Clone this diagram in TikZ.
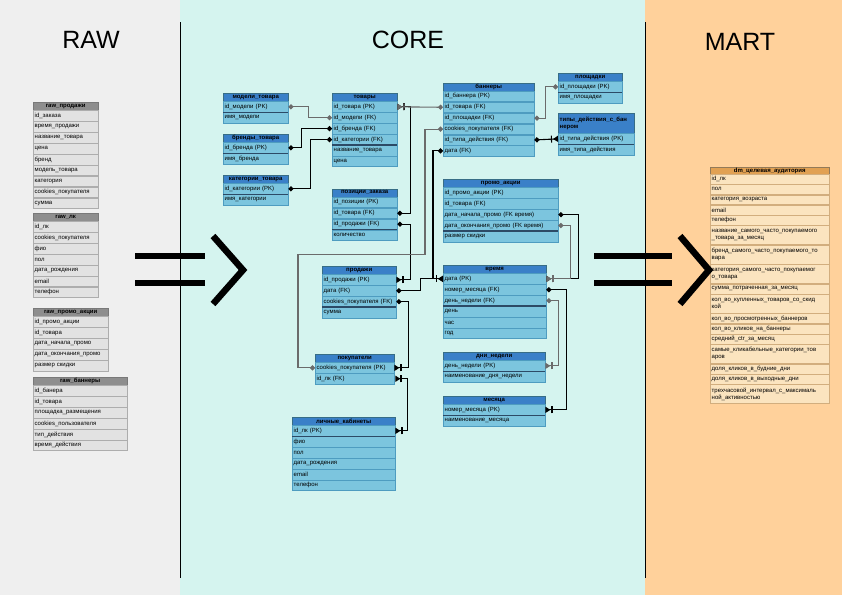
\documentclass[tikz,border=0pt]{standalone}
\usepackage{fontspec}
\setmainfont{Liberation Sans}
\usepackage{xcolor}
\usetikzlibrary{arrows.meta,positioning}
\definecolor{rawbg}{HTML}{EFEFEF}
\definecolor{corebg}{HTML}{D5F4EF}
\definecolor{martbg}{HTML}{FFD19B}
\definecolor{rawhead}{HTML}{8E8E8E}
\definecolor{rawcell}{HTML}{E2E2E2}
\definecolor{rawline}{HTML}{ADADAD}
\definecolor{corehead}{HTML}{3A80C8}
\definecolor{corecell}{HTML}{7CC5DE}
\definecolor{coreline}{HTML}{4E9CC0}
\definecolor{keyline}{HTML}{2C4A66}
\definecolor{marthead}{HTML}{E1A153}
\definecolor{martcell}{HTML}{FBE4BF}
\definecolor{martline}{HTML}{D2AE7E}
\definecolor{linkgray}{HTML}{6B6B6B}

\begin{document}
\catcode`\_=12
\begin{tikzpicture}[x=1pt,y=-1pt,
  title/.style={font=\fontsize{25}{30}\selectfont},
  rhead/.style={anchor=north west,draw=rawline!70!black,fill=rawhead,text width=#1,align=center,minimum height=8pt,inner xsep=1.5pt,inner ysep=0pt,font=\fontsize{6}{7}\selectfont\bfseries},
  rrow/.style={draw=rawline,fill=rawcell,text width=#1,align=left,minimum height=10.5pt,inner xsep=1.5pt,inner ysep=0pt,font=\fontsize{6}{7}\selectfont},
  chead/.style={anchor=north west,draw=coreline!70!black,fill=corehead,text width=#1,align=center,minimum height=8pt,inner xsep=1.5pt,inner ysep=0pt,font=\fontsize{6}{7}\selectfont\bfseries},
  crow/.style={draw=coreline,fill=corecell,text width=#1,align=left,minimum height=10.5pt,inner xsep=1.5pt,inner ysep=0pt,font=\fontsize{6}{7}\selectfont},
  mhead/.style={anchor=north west,draw=martline!70!black,fill=marthead,text width=#1,align=center,minimum height=6.5pt,inner xsep=1.5pt,inner ysep=0pt,font=\fontsize{6}{7}\selectfont\bfseries},
  mrow/.style={draw=martline,fill=martcell,text width=#1,align=left,inner xsep=1.5pt,inner ysep=0pt,font=\fontsize{6}{7}\selectfont},
  keysep/.style={draw=keyline,line width=1.4pt},
  link/.style={draw=black,line width=1.1pt},
  glink/.style={draw=linkgray,line width=1.1pt},
  dd/.style={arrows={Circle[length=5pt]-Circle[length=5pt]}},
  dp/.style={arrows={Circle[length=5pt]-Bar[width=7pt,sep=1pt] Triangle[reversed,length=5pt,width=6pt]}},
  pp/.style={arrows={Triangle[reversed,length=5pt,width=6pt,sep=1pt] Bar[width=7pt]-Bar[width=7pt,sep=1pt] Triangle[reversed,length=5pt,width=6pt]}},
  bigbar/.style={line width=5.5pt},
  bigchev/.style={line width=6.5pt,miter limit=20}]
 \useasboundingbox (0,0) rectangle (842,595);
 \fill[rawbg] (0,0) rectangle (180,595);
 \fill[corebg] (180,0) rectangle (645,595);
 \fill[martbg] (645,0) rectangle (842,595);
 \draw[line width=0.8pt] (180,22) -- (180,578) (645,22) -- (645,578);
 \node[title] (raw) at (91,40) {RAW};
 \node[title] (core) at (408,40) {CORE};
 \node[title] (mart) at (740,42) {MART};

 \node[rhead=62pt] (rprod-0) at (33,102) {raw_продажи};
 \foreach \t [count=\i,remember=\i as \j (initially 0)] in {id_заказа,время_продажи,название_товара,цена,бренд,модель_товара,категория,cookies_покупателя,сумма}
  \node[rrow=62pt,below=0pt of rprod-\j] (rprod-\i) {\t};
 \node[rhead=62pt] (rlk-0) at (33,213) {raw_лк};
 \foreach \t [count=\i,remember=\i as \j (initially 0)] in {id_лк,cookies_покупателя,фио,пол,дата_рождения,email,телефон}
  \node[rrow=62pt,below=0pt of rlk-\j] (rlk-\i) {\t};
 \node[rhead=72pt] (rpromo-0) at (33,308) {raw_промо_акции};
 \foreach \t [count=\i,remember=\i as \j (initially 0)] in {id_промо_акции,id_товара,дата_начала_промо,дата_окончания_промо,размер скидки}
  \node[rrow=72pt,below=0pt of rpromo-\j] (rpromo-\i) {\t};
 \node[rhead=91pt] (rban-0) at (33,377) {raw_баннеры};
 \foreach \t [count=\i,remember=\i as \j (initially 0)] in {id_банера,id_товара,площадка_размещения,cookies_пользователя,тип_действия,время_действия}
  \node[rrow=91pt,below=0pt of rban-\j] (rban-\i) {\t};

 \node[chead=62pt] (mod-0) at (223,93) {модели_товара};
 \foreach \t [count=\i,remember=\i as \j (initially 0)] in {id_модели (PK),имя_модели}
  \node[crow=62pt,below=0pt of mod-\j] (mod-\i) {\t};
 \node[chead=62pt] (brand-0) at (223,134) {бренды_товара};
 \foreach \t [count=\i,remember=\i as \j (initially 0)] in {id_бренда (PK),имя_бренда}
  \node[crow=62pt,below=0pt of brand-\j] (brand-\i) {\t};
 \node[chead=62pt] (cat-0) at (223,175) {категории_товара};
 \foreach \t [count=\i,remember=\i as \j (initially 0)] in {id_категории (PK),имя_категории}
  \node[crow=62pt,below=0pt of cat-\j] (cat-\i) {\t};
 \node[chead=62pt] (tov-0) at (332,93) {товары};
 \foreach \t [count=\i,remember=\i as \j (initially 0)] in {id_товара (PK),id_модели (FK),id_бренда (FK),id_категории (FK),название_товара,цена}
  \node[crow=62pt,below=0pt of tov-\j] (tov-\i) {\t};
 \node[chead=62pt] (poz-0) at (332,188.5) {позиции_заказа};
 \foreach \t [count=\i,remember=\i as \j (initially 0)] in {id_позиции (PK),id_товара (FK),id_продажи (FK),количество}
  \node[crow=62pt,below=0pt of poz-\j] (poz-\i) {\t};
 \node[chead=71pt] (prod-0) at (322,266) {продажи};
 \foreach \t [count=\i,remember=\i as \j (initially 0)] in {id_продажи (PK),дата (FK),cookies_покупателя (FK),сумма}
  \node[crow=71pt,below=0pt of prod-\j] (prod-\i) {\t};
 \node[chead=76pt] (pok-0) at (315,354) {покупатели};
 \foreach \t [count=\i,remember=\i as \j (initially 0)] in {cookies_покупателя (PK),id_лк (FK)}
  \node[crow=76pt,below=0pt of pok-\j] (pok-\i) {\t};
 \node[chead=100pt] (lk-0) at (292,417) {личные_кабинеты};
 \foreach \t [count=\i,remember=\i as \j (initially 0)] in {id_лк (PK),фио,пол,дата_рождения,email,телефон}
  \node[crow=100pt,below=0pt of lk-\j] (lk-\i) {\t};
 \node[chead=88pt] (ban-0) at (443,82.5) {баннеры};
 \foreach \t [count=\i,remember=\i as \j (initially 0)] in {id_баннера (PK),id_товара (FK),id_площадки (FK),cookies_покупателя (FK),id_типа_действия (FK),дата (FK)}
  \node[crow=88pt,below=0pt of ban-\j] (ban-\i) {\t};
 \node[chead=61pt] (pl-0) at (558,73) {площадки};
 \foreach \t [count=\i,remember=\i as \j (initially 0)] in {id_площадки (PK),имя_площадки}
  \node[crow=61pt,below=0pt of pl-\j] (pl-\i) {\t};
 \node[chead=73pt,align=left,minimum height=20pt] (tip-0) at (558,113) {типы_действия_с_бан\\нером};
 \foreach \t [count=\i,remember=\i as \j (initially 0)] in {id_типа_действия (PK),имя_типа_действия}
  \node[crow=73pt,below=0pt of tip-\j] (tip-\i) {\t};
 \node[chead=112pt] (promo-0) at (443,179) {промо_акции};
 \foreach \t [count=\i,remember=\i as \j (initially 0)] in {id_промо_акции (PK),id_товара (FK),дата_начала_промо (FK время),дата_окончания_промо (FK время),размер скидки}
  \node[crow=112pt,below=0pt of promo-\j] (promo-\i) {\t};
 \node[chead=100pt] (vr-0) at (443,265) {время};
 \foreach \t [count=\i,remember=\i as \j (initially 0)] in {дата (PK),номер_месяца (FK),день_недели (FK),день,час,год}
  \node[crow=100pt,below=0pt of vr-\j] (vr-\i) {\t};
 \node[chead=99pt] (dni-0) at (443,352) {дни_недели};
 \foreach \t [count=\i,remember=\i as \j (initially 0)] in {день_недели (PK),наименование_дня_недели}
  \node[crow=99pt,below=0pt of dni-\j] (dni-\i) {\t};
 \node[chead=99pt] (mes-0) at (443,396) {месяца};
 \foreach \t [count=\i,remember=\i as \j (initially 0)] in {номер_месяца (PK),наименование_месяца}
  \node[crow=99pt,below=0pt of mes-\j] (mes-\i) {\t};
 \foreach \n in {mod-1,brand-1,cat-1,tov-4,poz-3,prod-3,lk-1,pl-1,tip-1,promo-4,vr-3,dni-1,mes-1}
  \draw[keysep] (\n.south west) -- (\n.south east);

 \node[mhead=116pt] (dm-0) at (710,167) {dm_целевая_аудитория};
 \foreach \t/\h [count=\i,remember=\i as \j (initially 0)] in {id_лк/9.9,пол/9.9,категория_возраста/9.9,email/9.9,телефон/9.9,название_самого_часто_покупаемого\\_товара_за_месяц/19,бренд_самого_часто_покупаемого_то\\вара/19,категория_самого_часто_покупаемог\\о_товара/19,сумма_потраченная_за_месяц/9.9,кол_во_купленных_товаров_со_скид\\кой/19,кол_во_просмотренных_баннеров/9.9,кол_во_кликов_на_баннеры/9.9,средний_ctr_за_месяц/9.9,самые_кликабельные_категории_тов\\аров/19,доля_кликов_в_будние_дни/9.9,доля_кликов_в_выходные_дни/9.9,трехчасовой_интервал_с_максималь\\ной_активностью/19}
  \node[mrow=116pt,minimum height=\h,below=0pt of dm-\j] (dm-\i) {\t};

 \draw[glink,dd] (mod-1.east) -- ++(20,0) |- (tov-2.west);
 \draw[link,dd] (brand-1.east) -- ++(13,0) |- (tov-3.west);
 \draw[link,dd] (cat-1.east) -- ++(22,0) |- (tov-4.west);
 \draw[link,dp] (poz-2.east) -- ++(13,0) |- (tov-1.east);
 \draw[glink,dp] (ban-2.west) -- (tov-1.east);
 \draw[link,dp] (poz-3.east) -- ++(13,0) |- (prod-1.east);
 \draw[link,dp] (prod-3.east) -- ++(12,0) |- (pok-1.east);
 \draw[link,dp] (prod-2.east) -- ++(24,0) |- (vr-1.west);
 \draw[link,dp] (ban-6.west) -- ++(-10,0) |- (vr-1.west);
 \draw[glink,dd] (ban-4.west) -- ++(-18,0) -- ++(0,125) -| ([xshift=-17pt]pok-1.west) -- (pok-1.west);
 \draw[glink,dd] (ban-3.east) -- ++(11,0) |- (pl-1.west);
 \draw[link,dp] (ban-5.east) -- (tip-1.west);
 \draw[link,dp] (promo-3.east) -- ++(20,0) |- (vr-1.east);
 \draw[glink,dp] (promo-4.east) -- ++(12,0) |- (vr-1.east);
 \draw[link,dp] (vr-2.east) -- ++(20,0) |- (mes-1.east);
 \draw[glink,dp] (vr-3.east) -- ++(12,0) |- (dni-1.east);
 \draw[link,pp] (pok-2.east) -- ++(13,0) |- (lk-1.east);

 \draw[bigbar] (135,256) -- (205,256) (135,283) -- (205,283);
 \draw[bigchev] (213,236) -- (243,270) -- (213,304);
 \draw[bigbar] (594,256) -- (672,256) (594,283) -- (672,283);
 \draw[bigchev] (680,236) -- (709,270) -- (680,304);
\end{tikzpicture}
\end{document}
